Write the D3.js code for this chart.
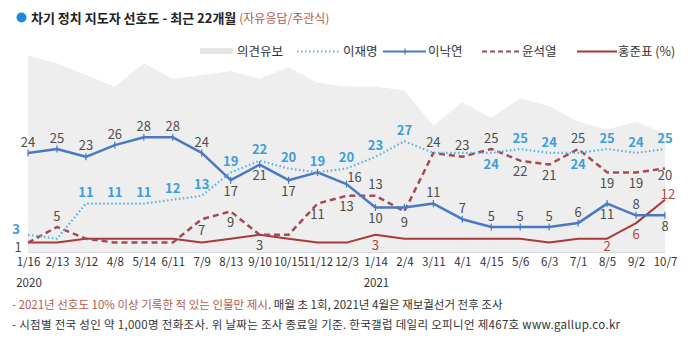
<!DOCTYPE html>
<html><head><meta charset="utf-8">
<script src="https://cdn.jsdelivr.net/npm/d3@7/dist/d3.min.js"></script>
<style>
html,body{margin:0;padding:0;background:#fff;}
svg{display:block;font-family:"Noto Sans CJK KR","Noto Sans",sans-serif;}
</style></head>
<body><svg id="c" width="700" height="356"></svg>
<script>
const categories = ["1/16","2/13","3/12","4/8","5/14","6/11","7/9","8/13","9/10","10/15","11/12","12/3","1/14","2/4","3/11","4/1","4/15","5/6","6/3","7/1","8/5","9/2","10/7"];
const yearAt = ["1/16","1/14"];
const yearText = ["2020","2021"];
const undecided = [49,47,44,41,47,43,44,45,43,46,42,41,41,40,31,37,33,38,36,32,30,32,29];
const leeJM  = [3,2,11,11,11,12,13,19,22,20,19,20,23,27,24,24,24,25,24,24,25,24,25];
const leeNY  = [24,25,23,26,28,28,24,17,21,17,19,16,10,10,11,7,5,5,5,6,11,8,8];
const yoon   = [1,5,2,1,1,1,7,9,3,3,11,13,13,9,24,23,25,22,21,25,19,19,20];
const hong   = [1,1,2,2,2,2,1,2,3,2,1,1,3,2,2,2,2,2,1,2,2,6,12];
// label placement codes (a=above, b=below, l=left, lb=left-below, ar=above-right, b2/a2/b3 tight, ''=none)
const leeJMPos = ['l','','a','a','a','a','a','a','a','a','a','a','a','a','','','b','a','a','b','a','a','a'];
const leeNYPos = ['a','a','a','a','a','a','a','b','b','b','','ar','b','','a','a','a','a','a','a','b','a','b'];
const yoonPos  = ['lb','a','','','','','b','b','b','','b','b','a','b','a','a','a','b','b','a','b','b','b2'];
const hongPos  = ['','','','','','','','','','','','','b','','','','','','','','b3','b','a2'];

const svg = d3.select("#c");
const plotBottom = 252;
const x = d3.scalePoint().domain(categories).range([28, 665]);
const y = d3.scaleLinear().domain([0, 50]).range([246.5, 51.5]);

// area 의견유보
svg.append("path")
  .datum(undecided)
  .attr("fill", "#eeeeee")
  .attr("d", d3.area().x((d,i)=>x(categories[i])).y0(plotBottom).y1(d=>y(d)));

// axis
const ax = svg.append("g").attr("transform", `translate(0,${plotBottom})`)
  .call(d3.axisBottom(x).tickSize(0).tickPadding(6));
ax.select(".domain").attr("stroke", "#d9d9d9").attr("stroke-width", 1);
ax.selectAll("text").attr("font-size", 11.5).attr("fill", "#333")
  .attr("font-family", "'Noto Sans CJK KR','Noto Sans',sans-serif");

svg.append("g").selectAll("text").data(yearAt).join("text")
  .attr("x", d=>x(d)+1).attr("y", 287)
  .attr("text-anchor","middle").attr("font-size", 11.5).attr("fill","#333")
  .text((d,i)=>yearText[i]);

function line(vals){ return d3.line().x((d,i)=>x(categories[i])).y(d=>y(d))(vals); }

const series = [
  {vals: hong,  color:"#a83a3a", width:2,   dash:null,    labelColor:"#a9443c", pos: hongPos, bold:false},
  {vals: yoon,  color:"#a44a55", width:2.5, dash:"6,4",   labelColor:"#4d4d4d", pos: yoonPos, bold:false},
  {vals: leeNY, color:"#4a78c2", width:2.5, dash:null,    labelColor:"#4d4d4d", pos: leeNYPos, bold:false},
  {vals: leeJM, color:"#55b3e3", width:2.2, dash:"1.5,2.5", labelColor:"#3a9edb", pos: leeJMPos, bold:true}
];

series.forEach(s=>{
  svg.append("path").attr("d", line(s.vals)).attr("fill","none")
    .attr("stroke", s.color).attr("stroke-width", s.width)
    .attr("stroke-dasharray", s.dash).attr("stroke-linejoin","round");
});

// markers on 이낙연
svg.append("g").selectAll("line").data(leeNY).join("line")
  .attr("x1",(d,i)=>x(categories[i])).attr("x2",(d,i)=>x(categories[i]))
  .attr("y1",d=>y(d)-3.5).attr("y2",d=>y(d)+3.5)
  .attr("stroke","#4a78c2").attr("stroke-width",1.2);

const off = {a:[0,-11], b:[0,11], l:[-12,-5.5], lb:[-10,5], ar:[8,-7], b2:[0,7], a2:[3,-5], b3:[0,7.5]};
series.forEach(s=>{
  s.vals.forEach((v,i)=>{
    const p = s.pos[i];
    if(!p) return;
    const o = off[p];
    svg.append("text")
      .attr("x", x(categories[i]) + o[0])
      .attr("y", y(v) + o[1])
      .attr("dy","0.36em")
      .attr("text-anchor","middle")
      .attr("font-size", 13)
      .attr("font-weight", s.bold ? 600 : 400)
      .attr("fill", s.labelColor)
      .text(v);
  });
});

// title
svg.append("circle").attr("cx", 21.5).attr("cy", 17.5).attr("r", 5).attr("fill", "#1a8ce0");
const t = svg.append("text").attr("x", 31).attr("y", 22.5).attr("font-size", 13);
t.append("tspan").attr("font-weight", 700).attr("fill","#222").text("차기 정치 지도자 선호도 - 최근 22개월 ");
t.append("tspan").attr("fill","#b25a4f").attr("font-size", 12).text("(자유응답/주관식)");

// legend
const lg = svg.append("g").attr("font-size", 12.5).attr("fill", "#333");
lg.append("rect").attr("x", 200).attr("y", 48).attr("width", 33).attr("height", 6).attr("fill", "#e6e6e6");
lg.append("text").attr("x", 237).attr("y", 56).text("의견유보");
lg.append("line").attr("x1",297).attr("x2",340).attr("y1",51.5).attr("y2",51.5)
  .attr("stroke","#55b3e3").attr("stroke-width",2).attr("stroke-dasharray","1.5,2.5");
lg.append("text").attr("x", 343).attr("y", 56).text("이재명");
lg.append("line").attr("x1",383).attr("x2",426).attr("y1",51.5).attr("y2",51.5)
  .attr("stroke","#4a78c2").attr("stroke-width",2);
lg.append("line").attr("x1",405).attr("x2",405).attr("y1",48.5).attr("y2",54.5)
  .attr("stroke","#4a78c2").attr("stroke-width",1.2);
lg.append("text").attr("x", 428).attr("y", 56).text("이낙연");
lg.append("line").attr("x1",482).attr("x2",520).attr("y1",51.5).attr("y2",51.5)
  .attr("stroke","#a44a55").attr("stroke-width",2).attr("stroke-dasharray","5,3");
lg.append("text").attr("x", 522).attr("y", 56).text("윤석열");
lg.append("line").attr("x1",577).attr("x2",617).attr("y1",51.5).attr("y2",51.5)
  .attr("stroke","#a83a3a").attr("stroke-width",2);
lg.append("text").attr("x", 618).attr("y", 56).text("홍준표 (%)");

// footnotes
const f1 = svg.append("text").attr("x", 12).attr("y", 309).attr("font-size", 11.5);
f1.append("tspan").attr("fill","#b25a4f").text("- 2021년 선호도 10% 이상 기록한 적 있는 인물만 제시");
f1.append("tspan").attr("fill","#333").text(". 매월 초 1회, 2021년 4월은 재보궐선거 전후 조사");
svg.append("text").attr("x", 12).attr("y", 329).attr("font-size", 11.5).attr("fill","#333")
  .attr("textLength", 608).attr("lengthAdjust", "spacing")
  .text("- 시점별 전국 성인 약 1,000명 전화조사. 위 날짜는 조사 종료일 기준. 한국갤럽 데일리 오피니언 제467호 www.gallup.co.kr");
</script></body></html>
